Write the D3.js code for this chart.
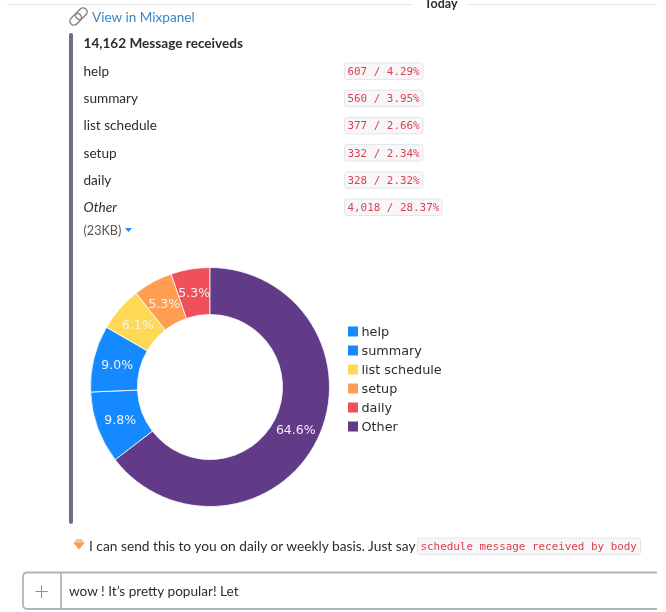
<!DOCTYPE html>
<html>
<head>
<meta charset="utf-8">
<script src="https://cdn.jsdelivr.net/npm/d3@7/dist/d3.min.js"></script>
<style>
  html, body { margin: 0; padding: 0; background: #fff; overflow: hidden; }
  svg { display: block; filter: blur(0.35px); }
  text { font-family: Lato, sans-serif; fill: #2c2d30; }
  .mono { font-family: "DejaVu Sans Mono", monospace; fill: #dc3f4d; font-size: 10.9px; }
  .grafica text { font-family: "DejaVu Sans", sans-serif; }
</style>
</head>
<body>
<svg id="lienzo" width="666" height="612"></svg>
<script>
var categorias = ["help", "summary", "list schedule", "setup", "daily", "Other"];
var conteos = [607, 560, 377, 332, 328, 4018];
var filas = ["607 / 4.29%", "560 / 3.95%", "377 / 2.66%", "332 / 2.34%", "328 / 2.32%", "4,018 / 28.37%"];
var colores = ["#1589ff", "#1589ff", "#ffd955", "#ff9d52", "#f0505a", "#613b87"];

var svg = d3.select("#lienzo");

// cabecera del canal
svg.append("line").attr("x1", 7).attr("x2", 412).attr("y1", 4.5).attr("y2", 4.5).style("stroke", "#e3e3e3");
svg.append("line").attr("x1", 467).attr("x2", 657).attr("y1", 4.5).attr("y2", 4.5).style("stroke", "#e3e3e3");
svg.append("text").attr("x", 424.5).attr("y", 8).style("font-size", "12.5px").style("font-weight", "bold").text("Today");

// icono de enlace
var icono = svg.append("g").attr("transform", "translate(78.5,16.5) rotate(-45)")
	.style("fill", "none").style("stroke", "#85858a").style("stroke-width", 1.5);
icono.append("rect").attr("x", -10.5).attr("y", -4).attr("width", 13).attr("height", 8).attr("rx", 4);
icono.append("rect").attr("x", -2.5).attr("y", -4).attr("width", 13).attr("height", 8).attr("rx", 4);

svg.append("text").attr("x", 92).attr("y", 22).style("font-size", "13.6px").style("fill", "#3b86c6").text("View in Mixpanel");

// barra lateral del adjunto
svg.append("rect").attr("x", 69).attr("y", 33).attr("width", 4).attr("height", 491).attr("rx", 2).style("fill", "#6f6f80");

svg.append("text").attr("x", 83.5).attr("y", 48).style("font-size", "13.6px").style("font-weight", "bold").text("14,162 Message receiveds");

// filas de la tabla
var yFila = d3.scalePoint().domain(categorias).range([71, 207]);

var fila = svg.selectAll(".fila").data(categorias).enter().append("g").attr("class", "fila")
	.attr("transform", function(d){ return "translate(0," + yFila(d) + ")"; });

fila.append("text").attr("x", 83.5).attr("y", 5)
	.style("font-size", "13.6px")
	.style("font-style", function(d){ return d == "Other" ? "italic" : "normal"; })
	.text(function(d){ return d; });

fila.append("rect").attr("x", 344.5).attr("y", -8).attr("height", 16.5).attr("rx", 2.5)
	.attr("width", function(d, i){ return i == 5 ? 97.5 : 78.5; })
	.style("fill", "#f7f7f9").style("stroke", "#e6e6e9");

fila.append("text").attr("class", "mono").attr("x", 347.5).attr("y", 4)
	.text(function(d, i){ return filas[i]; });

svg.append("text").attr("x", 83.5).attr("y", 235).style("font-size", "12.6px").style("fill", "#555").text("(23KB)");
svg.append("path").attr("d", d3.line()([[125, 228], [132, 228], [128.5, 232]])).style("fill", "#1d8cf0");

// dona
var grafica = svg.append("g").attr("class", "grafica");
var radio = 119.5;
var total = d3.sum(conteos);
var inicio = 2 * Math.PI * conteos[5] / total;

var pie = d3.pie().sort(null).startAngle(inicio).endAngle(inicio + 2 * Math.PI);
var arco = d3.arc().innerRadius(72.5).outerRadius(radio);
var arcoTexto = d3.arc().innerRadius(radio * 0.8).outerRadius(radio * 0.8);
var formato = d3.format(".1%");

var dona = grafica.append("g").attr("transform", "translate(210,387)");

dona.selectAll("path").data(pie(conteos)).enter().append("path")
	.attr("d", arco)
	.style("fill", function(d, i){ return colores[i]; })
	.style("stroke", "#fff").style("stroke-width", 0.8);

dona.selectAll("text").data(pie(conteos)).enter().append("text")
	.attr("transform", function(d){ return "translate(" + arcoTexto.centroid(d) + ")"; })
	.attr("text-anchor", "middle").attr("dy", "0.36em")
	.style("font-size", "12.5px").style("fill", "#f4f1f4")
	.text(function(d){ return formato(d.data / total); });

// leyenda
var yLeyenda = d3.scalePoint().domain(categorias).range([331, 426]);

var leyenda = grafica.selectAll(".leyenda").data(categorias).enter().append("g").attr("class", "leyenda")
	.attr("transform", function(d){ return "translate(348," + yLeyenda(d) + ")"; });

leyenda.append("rect").attr("y", -4.5).attr("width", 10).attr("height", 10)
	.style("fill", function(d, i){ return colores[i]; });

leyenda.append("text").attr("x", 13.5).attr("y", 4.5).style("font-size", "12.8px").text(function(d){ return d; });

// mensaje del bot
svg.append("path").attr("d", d3.line()([[76.5, 539.5], [81.5, 539.5], [84.5, 543], [79, 549.5], [73.5, 543]])).style("fill", "#f79a4f");
svg.append("path").attr("d", d3.line()([[76.5, 539.5], [81.5, 539.5], [84.5, 543], [73.5, 543]])).style("fill", "#fbc48f");
svg.append("text").attr("x", 89).attr("y", 551).style("font-size", "13.75px").text("I can send this to you on daily or weekly basis. Just say");

svg.append("rect").attr("x", 417.5).attr("y", 538).attr("width", 223).attr("height", 16.5).attr("rx", 2.5)
	.style("fill", "#f7f7f9").style("stroke", "#e6e6e9");
svg.append("text").attr("class", "mono").attr("x", 420.5).attr("y", 550).text("schedule message received by body");

// caja de entrada, abierta por la derecha
var caja = d3.path();
caja.moveTo(657, 572.5);
caja.lineTo(27.5, 572.5);
caja.quadraticCurveTo(23, 572.5, 23, 577);
caja.lineTo(23, 604.5);
caja.quadraticCurveTo(23, 609, 27.5, 609);
caja.lineTo(657, 609);
svg.append("path").attr("d", caja.toString())
	.style("fill", "none").style("stroke", "#b4b4b7").style("stroke-width", 1.8);
svg.append("line").attr("x1", 61).attr("x2", 61).attr("y1", 573).attr("y2", 609).style("stroke", "#b4b4b7").style("stroke-width", 1.8);
svg.append("text").attr("x", 41.5).attr("y", 599.5).attr("text-anchor", "middle").style("font-size", "26px").style("font-weight", "300").style("fill", "#8e8e92").text("+");
svg.append("text").attr("x", 69).attr("y", 595.5).style("font-size", "13.6px").text("wow ! It’s pretty popular! Let");
</script>
</body>
</html>
